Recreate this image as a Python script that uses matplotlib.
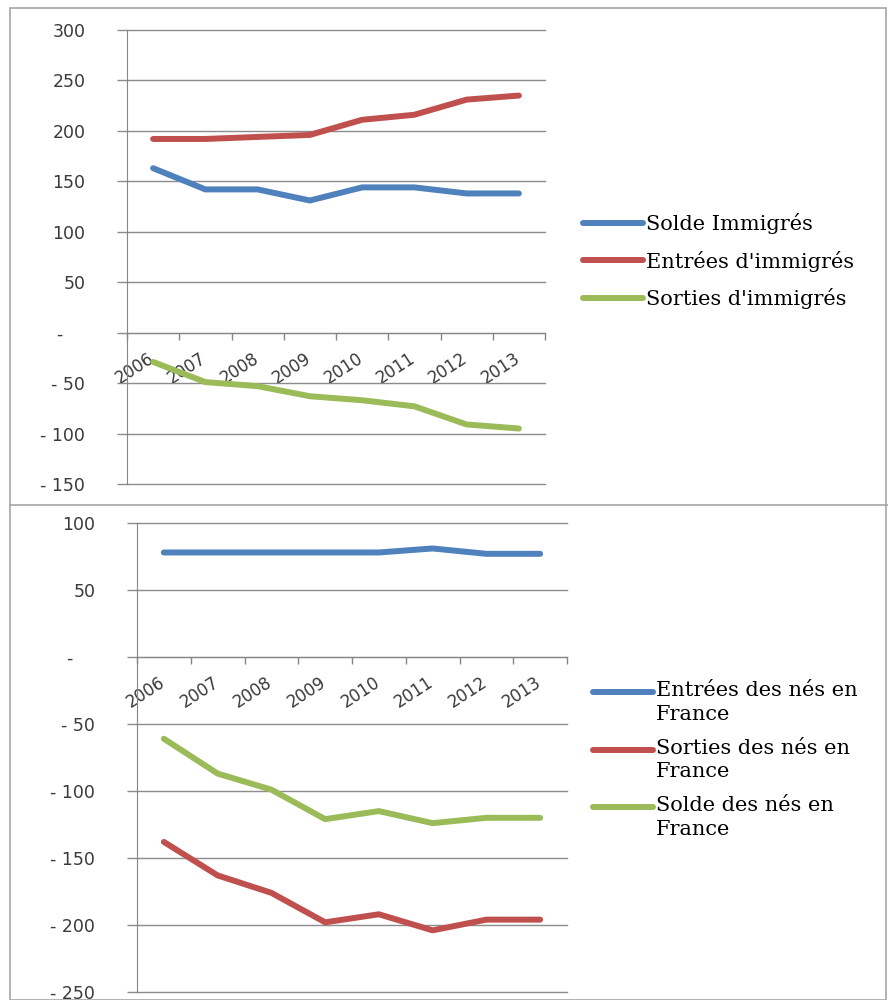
import matplotlib
matplotlib.use("Agg")
import matplotlib.pyplot as plt
from matplotlib.legend_handler import HandlerLine2D
from matplotlib.patches import Rectangle
from matplotlib.lines import Line2D
from matplotlib.transforms import ScaledTranslation
import numpy as np

YEARS = ["2006", "2007", "2008", "2009", "2010", "2011", "2012", "2013"]

# Immigrés (milliers)
SOLDE_IMMIGRES = [163, 142, 142, 131, 144, 144, 138, 138]
ENTREES_IMMIGRES = [192, 192, 194, 196, 211, 216, 231, 235]
SORTIES_IMMIGRES = [-29, -49, -53, -63, -67, -73, -91, -95]

# Nés en France (milliers)
ENTREES_NES = [78, 78, 78, 78, 78, 81, 77, 77]
SORTIES_NES = [-138, -163, -176, -198, -192, -204, -196, -196]
SOLDE_NES = [-61, -87, -99, -121, -115, -124, -120, -120]

TOP_YTICKS = [-150, -100, -50, 0, 50, 100, 150, 200, 250, 300]
BOTTOM_YTICKS = [-250, -200, -150, -100, -50, 0, 50, 100]

COLORS = {
    "blue": "#4F81BD",
    "red": "#C0504D",
    "green": "#9BBB59",
    "grid": "#8C8C8C",
    "axis": "#868686",
    "text": "#3A3A3A",
    "frame": "#A6A6A6",
}

LW = 4.3


class FirstLineHandler(HandlerLine2D):
    """Legend line aligned with the first line of a two-line label."""

    def __init__(self, shift=0.0, **kw):
        super().__init__(**kw)
        self.shift = shift

    def create_artists(self, legend, orig_handle, xdescent, ydescent,
                       width, height, fontsize, trans):
        artists = super().create_artists(legend, orig_handle, xdescent, ydescent,
                                         width, height, fontsize, trans)
        for a in artists:
            a.set_ydata(np.asarray(a.get_ydata(), dtype=float) + self.shift)
        return artists


def fmt_tick(v):
    if v == 0:
        return "-    "
    if v < 0:
        return f"- {abs(v)}"
    return f"{v}"


def draw_panel(fig, rect, series, yticks, ylim):
    ax = fig.add_axes(rect)
    x = np.arange(len(YEARS))
    for values, color, label in series:
        ax.plot(x, values, color=color, lw=LW, solid_capstyle="round",
                solid_joinstyle="round", label=label, zorder=3)

    ax.set_xlim(-0.5, len(YEARS) - 0.5)
    ax.set_ylim(*ylim)
    ax.set_yticks(yticks)
    ax.set_yticklabels([fmt_tick(v) for v in yticks])
    ax.grid(axis="y", color=COLORS["grid"], lw=1.0)
    ax.set_axisbelow(True)
    for gl in ax.get_ygridlines():
        gl.set_clip_on(False)

    for side in ["top", "right"]:
        ax.spines[side].set_visible(False)
    ax.spines["left"].set_color(COLORS["axis"])
    ax.spines["bottom"].set_position(("data", 0))
    ax.spines["bottom"].set_color(COLORS["axis"])

    ax.tick_params(axis="y", direction="out", length=7, width=1,
                   color=COLORS["grid"], pad=23, labelsize=12.5,
                   labelcolor=COLORS["text"])

    ax.set_xticks(x)
    ax.set_xticks(np.arange(len(YEARS) + 1) - 0.5, minor=True)
    ax.set_xticklabels(YEARS)
    ax.tick_params(axis="x", which="major", length=0, pad=12,
                   labelsize=12, labelcolor=COLORS["text"])
    ax.tick_params(axis="x", which="minor", direction="out", length=5,
                   width=1, color=COLORS["axis"])
    shift = ScaledTranslation(-4 / 72, 0, fig.dpi_scale_trans)
    for lab in ax.get_xticklabels():
        lab.set_rotation(33)
        lab.set_rotation_mode("anchor")
        lab.set_ha("right")
        lab.set_va("top")
        lab.set_transform(lab.get_transform() + shift)
    return ax


fig = plt.figure(figsize=(8.88, 10.0), dpi=100)

# frame around the two charts
fig.add_artist(Rectangle((10 / 888, 0), 876 / 888, 0.992, transform=fig.transFigure,
                         fill=False, edgecolor=COLORS["frame"], lw=1.2))
fig.add_artist(Line2D([10 / 888, 1.0], [0.495, 0.495], transform=fig.transFigure,
                      color=COLORS["frame"], lw=1.2))

top = draw_panel(
    fig,
    [127 / 888, 0.516, 418 / 888, 0.454],
    [
        (SOLDE_IMMIGRES, COLORS["blue"], "Solde Immigrés"),
        (ENTREES_IMMIGRES, COLORS["red"], "Entrées d'immigrés"),
        (SORTIES_IMMIGRES, COLORS["green"], "Sorties d'immigrés"),
    ],
    TOP_YTICKS,
    (-150, 300),
)
top.legend(
    loc="upper left",
    bbox_to_anchor=(583 / 888, 0.787),
    bbox_transform=fig.transFigure,
    frameon=False,
    borderpad=0,
    borderaxespad=0,
    handlelength=2.9,
    handletextpad=0.1,
    labelspacing=0.8,
    prop={"family": "DejaVu Serif", "size": 15},
)

bottom = draw_panel(
    fig,
    [137 / 888, 0.008, 430 / 888, 0.469],
    [
        (ENTREES_NES, COLORS["blue"], "Entrées des nés en\nFrance"),
        (SORTIES_NES, COLORS["red"], "Sorties des nés en\nFrance"),
        (SOLDE_NES, COLORS["green"], "Solde des nés en\nFrance"),
    ],
    BOTTOM_YTICKS,
    (-250, 100),
)
handles, labels = bottom.get_legend_handles_labels()
leg = bottom.legend(
    handles,
    labels,
    loc="upper left",
    bbox_to_anchor=(593 / 888, 0.319),
    bbox_transform=fig.transFigure,
    frameon=False,
    borderpad=0,
    borderaxespad=0,
    handlelength=2.9,
    handletextpad=0.1,
    labelspacing=0.7,
    prop={"family": "DejaVu Serif", "size": 15},
    handler_map={Line2D: FirstLineHandler(shift=7.6)},
)
for t in leg.get_texts():
    t.set_linespacing(1.33)

fig.savefig("out.png", dpi=100)
